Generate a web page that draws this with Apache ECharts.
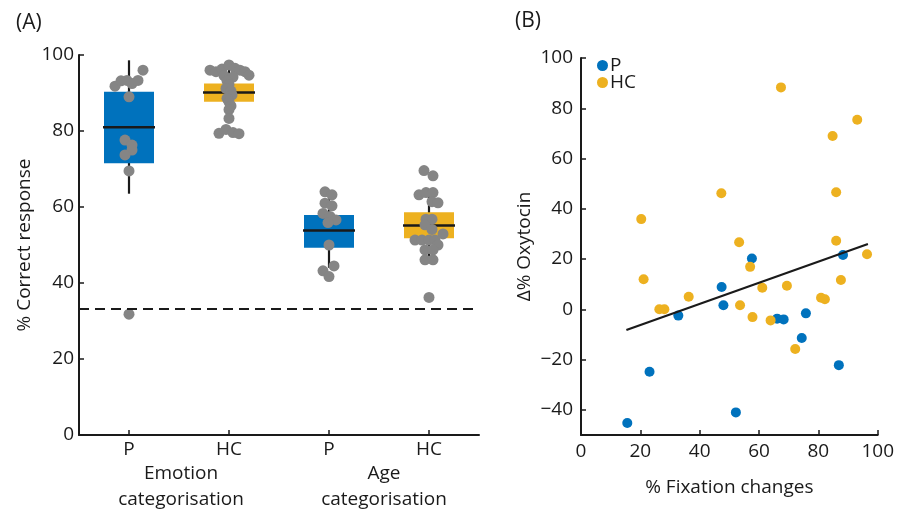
<!DOCTYPE html>
<html>
<head>
<meta charset="utf-8">
<script src="https://cdn.jsdelivr.net/npm/echarts@6/dist/echarts.min.js"></script>
<style>
  html, body { margin: 0; padding: 0; background: #fff; }
  #main { width: 897px; height: 513px; }
</style>
</head>
<body>
<div id="main"></div>
<script>
// panel A data
var groupNames = ['P', 'HC', 'P', 'HC'];
var taskNames = ['Emotion\ncategorisation', 'Age\ncategorisation'];
// whisker low, q1, median, q3, whisker high
var boxStats = [
  [63.5, 71.5, 81.0, 90.3, 98.6],
  [83.3, 87.7, 90.1, 92.5, 97.4],
  [44.0, 49.3, 53.8, 57.9, 64.0],
  [46.0, 51.8, 55.1, 58.6, 63.8]
];
// [jitter, value] per group
var emoP = [[0.14, 96], [-0.14, 91.8], [-0.08, 93.2], [-0.02, 93.3], [0.03, 92.5], [0.09, 93.3],
  [0, 89], [-0.04, 77.6], [0.03, 76.3], [0.03, 75], [-0.04, 73.7], [0, 69.5], [0, 31.8]];
var emoHC = [[-0.19, 96.0], [-0.13, 95.6], [-0.07, 96.3], [0, 97.4], [0.06, 96.5], [0.11, 96.0],
  [0.16, 95.6], [0.2, 94.7], [-0.05, 94.6], [0.04, 94.2], [-0.02, 93.2], [0, 92.2], [-0.03, 91.2],
  [0.02, 90.5], [0.03, 89.5], [-0.02, 88.6], [0, 87.6], [0.02, 86.6], [0, 85.6], [0, 83.3],
  [-0.1, 79.4], [-0.03, 80.4], [0.04, 79.6], [0.1, 79.3]];
var ageP = [[-0.04, 64], [0.03, 63.2], [-0.04, 61], [0.03, 60.3], [-0.06, 58.3], [0.01, 57.5],
  [0.07, 56.6], [-0.01, 55.9], [0, 50], [0.05, 44.5], [-0.06, 43.2], [0, 41.7]];
var ageHC = [[-0.05, 69.6], [0.04, 68.2], [-0.1, 63.2], [-0.03, 63.8], [0.04, 63.8], [0.03, 61.4],
  [0.09, 61.1], [-0.03, 56.8], [0.03, 56.8], [-0.04, 55.3], [0.03, 54.1], [0.14, 52.9],
  [-0.14, 51.3], [-0.07, 51.3], [0, 51.3], [0.06, 51.3], [0.09, 50], [-0.04, 48.7], [0.04, 48.7],
  [-0.04, 46.1], [0.04, 46.1], [0, 36.2]];
var chanceLevel = 33.3;

// panel B data: [% fixation changes, delta % oxytocin]
var pPoints = [[15.6, -45.2], [23.1, -24.8], [32.8, -2.5], [47.4, 8.9], [48, 1.6], [52.2, -41],
  [57.6, 20.2], [66.1, -3.7], [68.3, -4], [75.8, -1.6], [74.4, -11.4], [86.9, -22.2], [88.3, 21.6]];
var hcPoints = [[20.3, 35.9], [21.1, 12], [26.4, 0], [28.1, 0], [36.3, 5], [47.3, 46.2], [53.3, 26.7],
  [53.6, 1.6], [57, 16.9], [57.8, -3.1], [61.1, 8.6], [63.9, -4.4], [67.4, 88.3], [69.4, 9.4],
  [72.2, -15.8], [80.9, 4.6], [82.2, 4], [84.8, 69], [86, 46.6], [86, 27.3], [87.6, 11.7],
  [93.1, 75.4], [96.4, 21.9]];
var fitLine = [[15.3, -8.2], [96.7, 26.0]];

var BLUE = '#0072bd';
var YELLOW = '#edb120';
var GRAY = '#858585';
var INK = '#1a1a1a';
var boxColors = [BLUE, YELLOW, BLUE, YELLOW];
var FONT = 'Open Sans';
var FS = 19;

function jittered(list, pos) {
  return list.map(function (d) { return [pos + d[0], d[1]]; });
}
var allPoints = [].concat(jittered(emoP, 1), jittered(emoHC, 2), jittered(ageP, 3), jittered(ageHC, 4));

var axisBase = {
  axisLine: { onZero: false, lineStyle: { color: INK, width: 2 } },
  axisTick: { inside: true, length: 5, lineStyle: { color: INK, width: 1.5 } },
  splitLine: { show: false },
  axisLabel: { color: INK, fontSize: FS, fontFamily: FONT },
  nameTextStyle: { color: INK, fontSize: FS, fontFamily: FONT }
};

var chart = echarts.init(document.getElementById('main'), null, { renderer: 'canvas' });

chart.setOption({
  backgroundColor: '#fff',
  animation: false,
  textStyle: { fontFamily: FONT },
  title: [
    { text: '(A)', left: 11, top: 8, textStyle: { fontSize: 21, fontWeight: 'normal', color: INK, fontFamily: FONT } },
    { text: '(B)', left: 510, top: 6, textStyle: { fontSize: 21, fontWeight: 'normal', color: INK, fontFamily: FONT } }
  ],
  legend: {
    data: ['P', 'HC'],
    orient: 'vertical',
    left: 597,
    top: 56,
    padding: 0,
    itemGap: -2,
    itemWidth: 11,
    itemHeight: 11,
    icon: 'circle',
    textStyle: { fontSize: 19, lineHeight: 17, color: INK, fontFamily: FONT, padding: [0, 0, 0, -3] }
  },
  grid: [
    { left: 79, top: 55, width: 400, height: 380 },
    { left: 581, top: 58, width: 300, height: 377 }
  ],
  xAxis: [
    Object.assign({}, axisBase, {
      type: 'value', gridIndex: 0, min: 0.5, max: 4.5,
      axisTick: { inside: true, length: 5, customValues: [1, 2, 3, 4], lineStyle: { color: INK, width: 1.5 } },
      axisLabel: {
        color: INK, fontSize: FS, fontFamily: FONT, margin: 5,
        customValues: [1, 2, 3, 4],
        formatter: function (v) { return groupNames[Math.round(v) - 1]; }
      }
    }),
    {
      type: 'value', gridIndex: 0, min: 0.5, max: 4.5, position: 'bottom', offset: 18,
      axisLine: { show: false }, axisTick: { show: false }, splitLine: { show: false },
      axisLabel: {
        color: INK, fontSize: FS, fontFamily: FONT, margin: 8, lineHeight: 26,
        customValues: [1.52, 3.55],
        formatter: function (v) { return v < 2.5 ? taskNames[0] : taskNames[1]; }
      }
    },
    Object.assign({}, axisBase, {
      type: 'value', gridIndex: 1, min: 0, max: 100, interval: 20,
      name: '% Fixation changes', nameLocation: 'middle', nameGap: 43,
      axisLabel: { color: INK, fontSize: FS, fontFamily: FONT, margin: 7 }
    })
  ],
  yAxis: [
    Object.assign({}, axisBase, {
      type: 'value', gridIndex: 0, min: 0, max: 100, interval: 20,
      name: '% Correct response', nameLocation: 'middle', nameGap: 45,
      axisLabel: { color: INK, fontSize: FS, fontFamily: FONT, margin: 5 }
    }),
    Object.assign({}, axisBase, {
      type: 'value', gridIndex: 1, min: -50, max: 100,
      name: 'Δ% Oxytocin', nameLocation: 'middle', nameGap: 47,
      axisTick: { inside: true, length: 5, customValues: [-40, -20, 0, 20, 40, 60, 80, 100], lineStyle: { color: INK, width: 1.5 } },
      axisLabel: {
        color: INK, fontSize: FS, fontFamily: FONT, margin: 8,
        customValues: [-40, -20, 0, 20, 40, 60, 80, 100],
        formatter: function (v) { return String(v).replace('-', '−'); }
      }
    })
  ],
  series: [
    {
      type: 'custom',
      xAxisIndex: 0, yAxisIndex: 0,
      encode: { x: 0, y: [1, 2, 3, 4, 5] },
      data: boxStats.map(function (s, i) { return [i + 1].concat(s); }),
      z: 2,
      renderItem: function (params, api) {
        var x = api.value(0);
        var lo = api.coord([x, api.value(1)]);
        var q1 = api.coord([x, api.value(2)]);
        var md = api.coord([x, api.value(3)]);
        var q3 = api.coord([x, api.value(4)]);
        var hi = api.coord([x, api.value(5)]);
        var w = api.size([0.5, 0])[0];
        return {
          type: 'group',
          children: [
            { type: 'line', shape: { x1: lo[0], y1: lo[1], x2: hi[0], y2: hi[1] }, style: { stroke: INK, lineWidth: 2.2 } },
            { type: 'rect', shape: { x: q3[0] - w / 2, y: q3[1], width: w, height: q1[1] - q3[1] }, style: { fill: boxColors[params.dataIndex] } },
            { type: 'line', shape: { x1: md[0] - w / 2 - 1, y1: md[1], x2: md[0] + w / 2 + 1, y2: md[1] }, style: { stroke: INK, lineWidth: 2.5 } }
          ]
        };
      },
      markLine: {
        silent: true,
        symbol: 'none',
        label: { show: false },
        lineStyle: { color: INK, width: 2, type: [10, 6] },
        data: [{ yAxis: chanceLevel }]
      }
    },
    {
      type: 'scatter',
      xAxisIndex: 0, yAxisIndex: 0,
      symbolSize: 11,
      itemStyle: { color: GRAY, opacity: 1 },
      z: 3,
      data: allPoints
    },
    {
      name: 'P',
      type: 'scatter',
      xAxisIndex: 2, yAxisIndex: 1,
      symbolSize: 10,
      itemStyle: { color: BLUE, opacity: 1 },
      data: pPoints
    },
    {
      name: 'HC',
      type: 'scatter',
      xAxisIndex: 2, yAxisIndex: 1,
      symbolSize: 10,
      itemStyle: { color: YELLOW, opacity: 1 },
      data: hcPoints
    },
    {
      type: 'line',
      xAxisIndex: 2, yAxisIndex: 1,
      showSymbol: false,
      symbol: 'none',
      lineStyle: { color: INK, width: 2.2 },
      z: 4,
      data: fitLine
    }
  ]
});
</script>
</body>
</html>
